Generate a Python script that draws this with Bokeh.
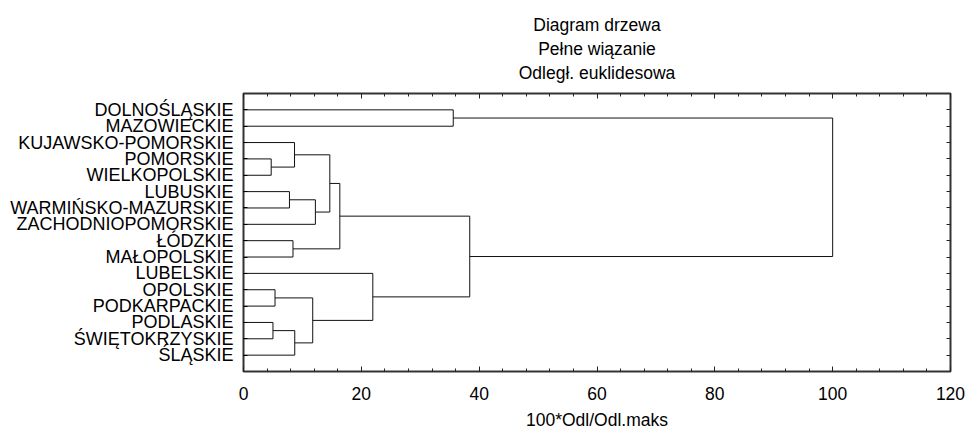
from bokeh.plotting import figure
from bokeh.models import Range1d, LinearAxis, FixedTicker, Title
from bokeh.embed import file_html
from bokeh.resources import INLINE

# ---- data ----
title_lines = ["Diagram drzewa", "Pełne wiązanie", "Odległ. euklidesowa"]
x_label = "100*Odl/Odl.maks"
leaves = ["DOLNOŚLĄSKIE", "MAZOWIECKIE", "KUJAWSKO-POMORSKIE", "POMORSKIE",
          "WIELKOPOLSKIE", "LUBUSKIE", "WARMIŃSKO-MAZURSKIE", "ZACHODNIOPOMORSKIE",
          "ŁÓDZKIE", "MAŁOPOLSKIE", "LUBELSKIE", "OPOLSKIE", "PODKARPACKIE",
          "PODLASKIE", "ŚWIĘTOKRZYSKIE", "ŚLĄSKIE"]
# merges: new cluster ids start at 16
merge_left = [3, 13, 11, 5, 8, 2, 17, 18, 19, 21, 25, 10, 0, 26, 28]
merge_right = [4, 14, 12, 6, 9, 16, 15, 22, 7, 24, 20, 23, 1, 27, 29]
merge_height = [4.7, 5.0, 5.35, 7.8, 8.4, 8.66, 8.7, 11.75, 12.2, 14.65, 16.35, 21.95, 35.6, 38.4, 100.0]
x_ticks = [0, 20, 40, 60, 80, 100, 120]

FONT = "Liberation Sans"
FS = "17.5px"

# ---- build dendrogram segments ----
nx = [0.0] * len(leaves)
ny = [float(i + 1) for i in range(len(leaves))]
x0, y0, x1, y1 = [], [], [], []
for l, r, h in zip(merge_left, merge_right, merge_height):
    x0 += [nx[l], nx[r], h]
    y0 += [ny[l], ny[r], ny[l]]
    x1 += [h, h, h]
    y1 += [ny[l], ny[r], ny[r]]
    nx.append(h)
    ny.append((ny[l] + ny[r]) / 2)

p = figure(width=965, height=432, x_range=Range1d(0, 120), y_range=Range1d(len(leaves) + 1, 0),
           output_backend="svg", toolbar_location=None,
           min_border_left=243, min_border_right=15, min_border_top=93, min_border_bottom=59)
p.xgrid.visible = False
p.ygrid.visible = False
p.outline_line_color = "#333333"
p.outline_line_width = 2
p.background_fill_color = "white"
p.border_fill_color = "white"

p.segment(x0=x0, y0=y0, x1=x1, y1=y1, line_color="#111111", line_width=1)

xt = FixedTicker(ticks=x_ticks, minor_ticks=list(range(0, 121, 4)))
yt = FixedTicker(ticks=[i + 1 for i in range(len(leaves))])

xa = p.xaxis[0]
xa.ticker = xt
xa.axis_line_color = None
xa.major_tick_in = 5
xa.major_tick_out = 0
xa.minor_tick_in = 3
xa.minor_tick_out = 0
xa.major_tick_line_color = "#222222"
xa.minor_tick_line_color = "#222222"
xa.major_label_text_font = FONT
xa.major_label_text_font_size = FS
xa.major_label_text_color = "black"
xa.major_label_standoff = 15
xa.axis_label = x_label
xa.axis_label_text_font = FONT
xa.axis_label_text_font_size = FS
xa.axis_label_text_font_style = "normal"
xa.axis_label_text_color = "black"
xa.axis_label_standoff = 7

ya = p.yaxis[0]
ya.ticker = yt
ya.major_label_overrides = {i + 1: name for i, name in enumerate(leaves)}
ya.axis_line_color = None
ya.major_tick_in = 4
ya.major_tick_out = 0
ya.minor_tick_line_color = None
ya.major_label_text_font = FONT
ya.major_label_text_font_size = "18px"
ya.major_label_text_color = "black"
ya.major_label_standoff = 10

top = LinearAxis(ticker=FixedTicker(ticks=x_ticks, minor_ticks=list(range(0, 121, 4))),
                 axis_line_color=None, major_tick_in=5, major_tick_out=0,
                 minor_tick_in=3, minor_tick_out=0, major_label_standoff=0,
                 major_tick_line_color="#222222", minor_tick_line_color="#222222",
                 major_label_overrides={t: " " for t in x_ticks},
                 major_label_text_font_size="6px")
p.add_layout(top, "above")

right = LinearAxis(ticker=FixedTicker(ticks=[i + 1 for i in range(len(leaves))]),
                   axis_line_color=None, major_tick_in=4, major_tick_out=0,
                   minor_tick_line_color=None, major_label_standoff=0,
                   major_tick_line_color="#222222",
                   major_label_overrides={i + 1: "" for i in range(len(leaves))},
                   major_label_text_font_size="1px")
p.add_layout(right, "right")

for txt, so in [(title_lines[2], 3), (title_lines[1], 2)]:
    p.add_layout(Title(text=txt, align="center", text_font=FONT, text_font_size=FS,
                       text_font_style="normal", text_color="black", standoff=so), "above")
p.title.text = title_lines[0]
p.title.align = "center"
p.title.text_font = FONT
p.title.text_font_size = FS
p.title.text_font_style = "normal"
p.title.text_color = "black"
p.title.standoff = 2

open("out.html", "w").write(file_html(p, INLINE))
